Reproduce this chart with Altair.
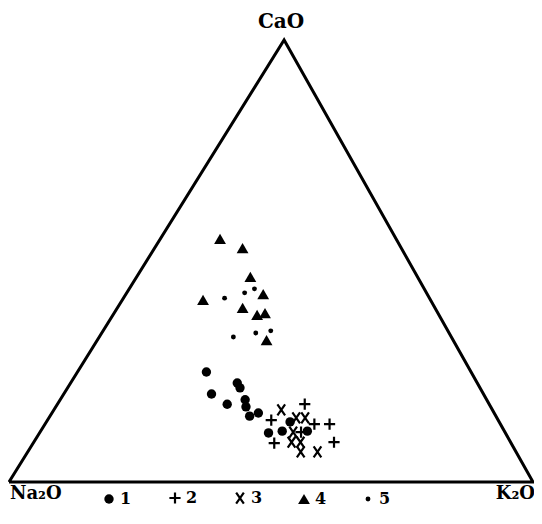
import altair as alt
import pandas as pd

# ---- data (oxide percentages) ----
types = ["1", "2", "3", "4", "5"]

g1_cao = [24.9, 22.4, 21.3, 19.9, 17.6, 18.6, 17.0, 14.9, 15.6, 11.1, 11.5, 13.6, 11.5]
g1_k2o = [24.6, 31.8, 32.9, 28.2, 32.4, 35.3, 36.3, 38.1, 39.4, 43.7, 46.1, 46.5, 50.9]
g1_na2o = [50.5, 45.8, 45.8, 51.9, 50.0, 46.1, 46.7, 47.0, 45.0, 45.2, 42.4, 39.9, 37.6]

g2_cao = [14.0, 17.6, 13.1, 13.1, 11.3, 8.8, 9.0]
g2_k2o = [42.7, 47.2, 51.4, 54.3, 49.8, 46.0, 57.3]
g2_na2o = [43.3, 35.2, 35.5, 32.6, 38.9, 45.2, 33.7]

g3_cao = [16.3, 14.5, 14.5, 11.3, 9.0, 9.0, 6.8, 6.8]
g3_k2o = [43.4, 47.2, 48.9, 48.3, 49.2, 50.9, 52.1, 55.3]
g3_na2o = [40.3, 38.3, 36.6, 40.4, 41.8, 40.1, 41.1, 37.9]

g4_cao = [55.0, 52.9, 46.4, 41.2, 42.5, 39.4, 37.8, 38.2, 32.1]
g4_k2o = [11.4, 16.8, 21.7, 15.4, 26.2, 23.9, 27.5, 28.8, 32.3]
g4_na2o = [33.6, 30.3, 31.9, 43.4, 31.3, 36.7, 34.7, 33.0, 35.6]

g5_cao = [41.6, 42.8, 43.7, 32.8, 33.7, 34.2]
g5_k2o = [19.3, 22.5, 23.9, 25.6, 29.4, 32.0]
g5_na2o = [39.1, 34.7, 32.4, 41.6, 36.9, 33.8]

vertex_names = ["Na₂O", "K₂O", "CaO"]
vertex_cao = [0, 0, 100]
vertex_k2o = [0, 100, 0]
vertex_na2o = [100, 0, 0]

# ---- ternary -> cartesian ----
SHEAR = 0.525  # horizontal position of the CaO apex along the base


def to_xy(c, k, n):
    s = c + k + n
    return k / s + SHEAR * c / s, c / s


rows = []
groups = [
    (g1_cao, g1_k2o, g1_na2o),
    (g2_cao, g2_k2o, g2_na2o),
    (g3_cao, g3_k2o, g3_na2o),
    (g4_cao, g4_k2o, g4_na2o),
    (g5_cao, g5_k2o, g5_na2o),
]
for t, (cs, ks, ns) in zip(types, groups):
    for c, k, n in zip(cs, ks, ns):
        x, y = to_xy(c, k, n)
        rows.append({"type": t, "X": x, "Y": y})
pts = pd.DataFrame(rows)

vrows = []
for i, (nm, c, k, n) in enumerate(zip(vertex_names, vertex_cao, vertex_k2o, vertex_na2o)):
    x, y = to_xy(c, k, n)
    vrows.append({"name": nm, "X": x, "Y": y, "order": i})
verts = pd.DataFrame(vrows)
outline = pd.concat([verts, verts.iloc[[0]].assign(order=3)], ignore_index=True)

# ---- scales ----
W, H = 526, 508
xs = alt.Scale(domain=[-1 / 524, 1 + 1 / 524], nice=False, zero=False)
ys = alt.Scale(domain=[-0.07692, 1.07240], nice=False, zero=False)
X = alt.X("X:Q", scale=xs, axis=None)
Y = alt.Y("Y:Q", scale=ys, axis=None)

FONT = "DejaVu Serif"

tri = alt.Chart(outline).mark_line(
    color="black", strokeWidth=3, strokeJoin="miter", strokeMiterLimit=20
).encode(x=X, y=Y, order="order:O")

lab_top = alt.Chart(verts).transform_filter(alt.datum.name == "CaO").mark_text(
    font=FONT, fontSize=20, fontWeight="bold", align="center", baseline="alphabetic", dy=-12, dx=-3
).encode(x=X, y=Y, text="name:N")
lab_left = alt.Chart(verts).transform_filter(alt.datum.name == "Na₂O").mark_text(
    font=FONT, fontSize=18, fontWeight="bold", align="left", baseline="alphabetic", dy=17, dx=1
).encode(x=X, y=Y, text="name:N")
lab_right = alt.Chart(verts).transform_filter(alt.datum.name == "K₂O").mark_text(
    font=FONT, fontSize=18, fontWeight="bold", align="right", baseline="alphabetic", dy=17, dx=2
).encode(x=X, y=Y, text="name:N")

shapes = [
    "circle",
    "M-1,0L1,0M0,-1L0,1",
    "M-0.7,-1L0.7,1M-0.7,1L0.7,-1",
    "triangle-up",
    "circle",
]
sizes = [88, 125, 120, 140, 24]
swidths = [0, 2.2, 2.2, 0, 0]
inks = ["black", "black", "black", "black", "black"]

legend = alt.Legend(
    title=None,
    orient="none",
    legendX=93,
    legendY=482,
    direction="horizontal",
    columns=5,
    columnPadding=33,
    padding=0,
    labelFont=FONT,
    labelFontSize=16,
    labelFontWeight="bold",
    labelColor="black",
    labelOffset=3,
)


def oscale(rng):
    return alt.Scale(type="ordinal", domain=types, range=rng)


points = alt.Chart(pts).mark_point(filled=True, opacity=1).encode(
    x=X,
    y=Y,
    shape=alt.Shape("type:N", scale=oscale(shapes), legend=legend),
    size=alt.Size("type:N", scale=oscale(sizes), legend=legend),
    fill=alt.Fill("type:N", scale=oscale(inks), legend=legend),
    stroke=alt.Stroke("type:N", scale=oscale(inks), legend=legend),
    strokeWidth=alt.StrokeWidth("type:N", scale=oscale(swidths), legend=legend),
)

chart = alt.layer(tri, points, lab_top, lab_left, lab_right).properties(
    width=W, height=H, autosize="none", padding=0, background="white"
).configure_view(strokeWidth=0)

chart.save("out.html", embed_options={"renderer": "svg", "actions": False})
